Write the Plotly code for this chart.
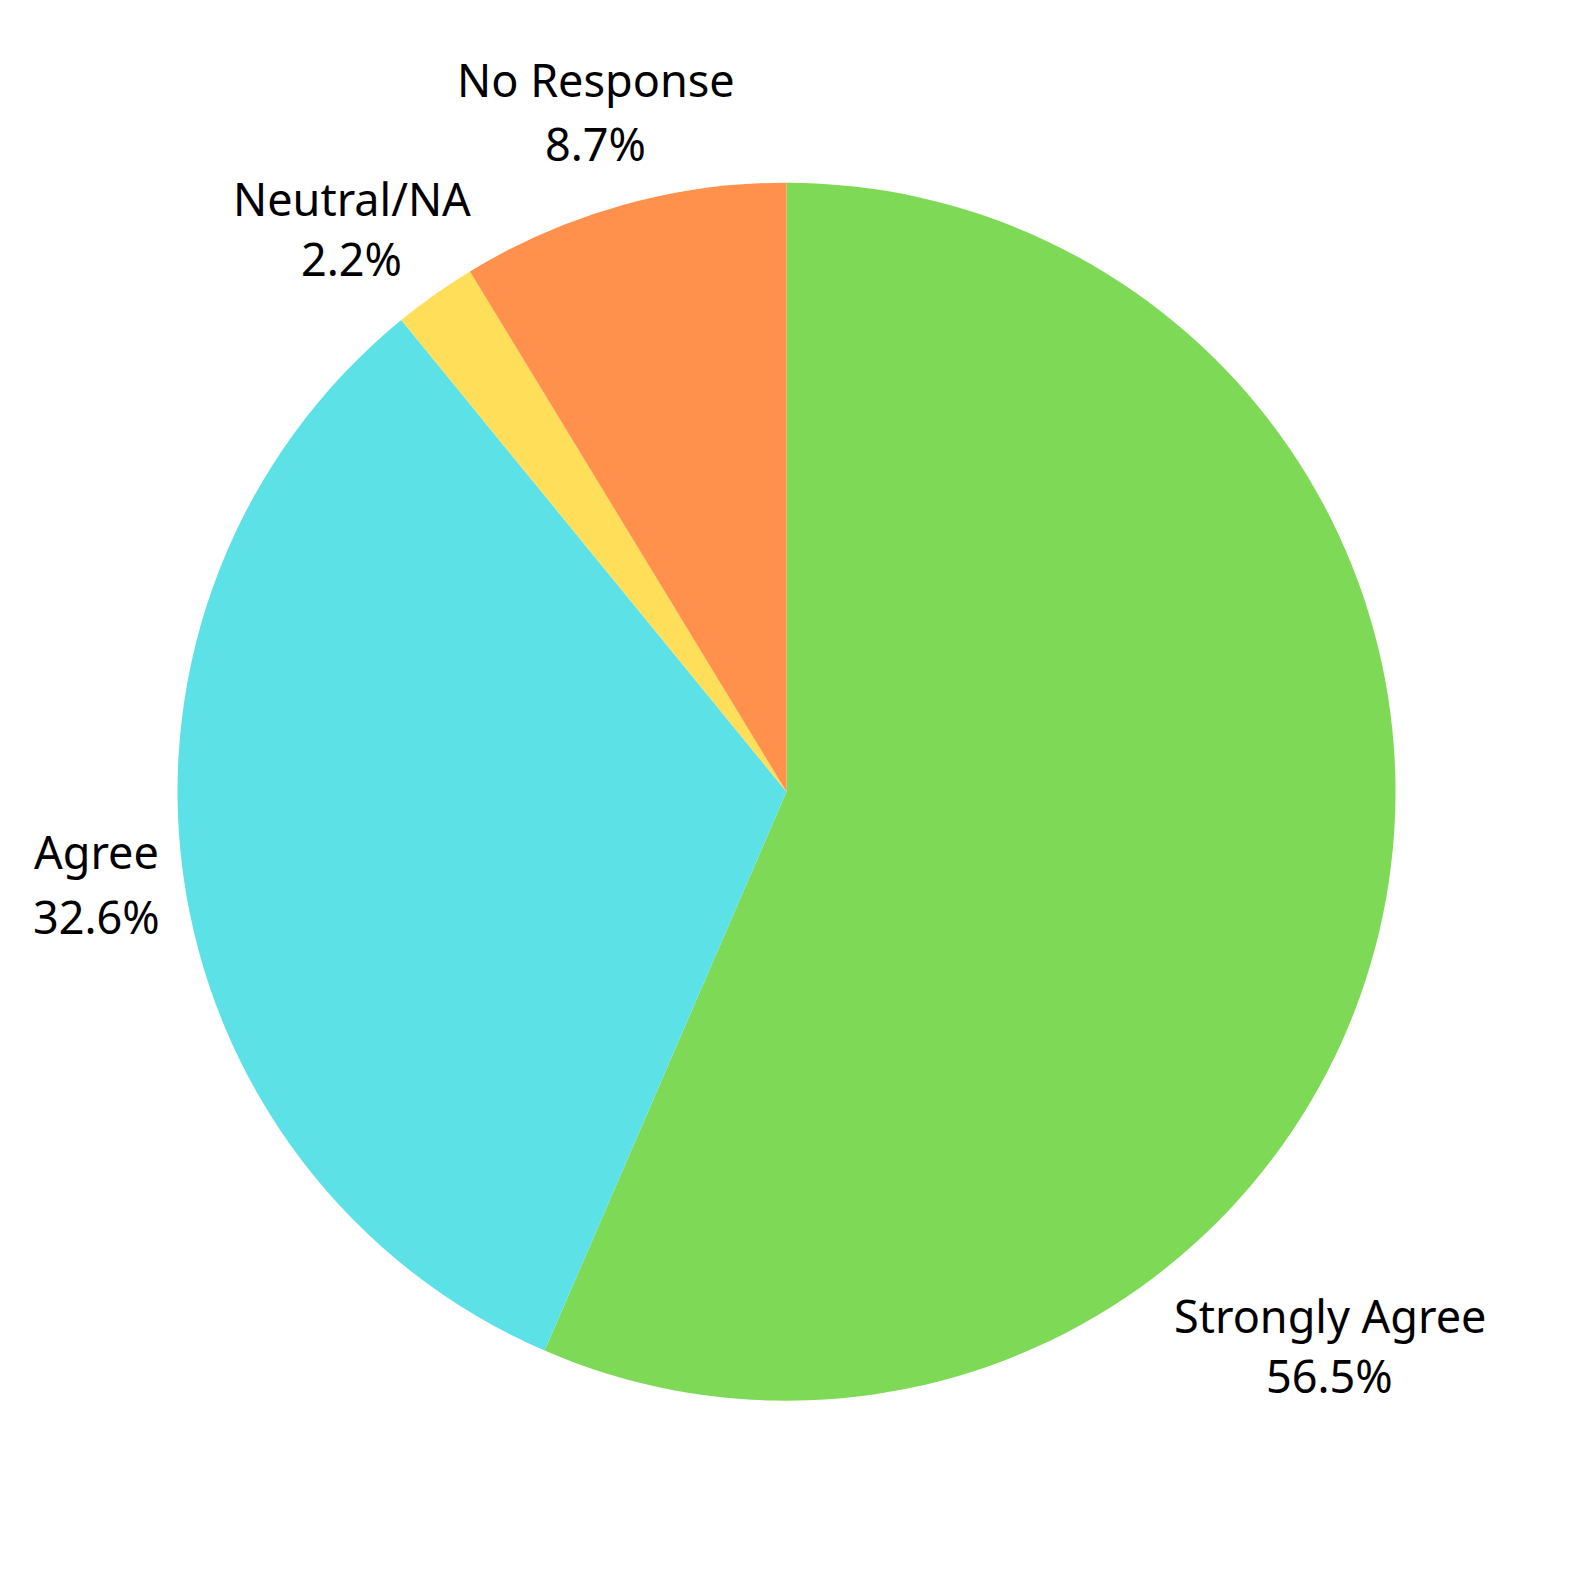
import plotly.graph_objects as go

labels = ["Strongly Agree", "Agree", "Neutral/NA", "No Response"]
values = [56.5, 32.6, 2.2, 8.7]
colors = ["#7ED957", "#5CE1E6", "#FFDE59", "#FF914D"]

W = H = 1580
OFF = 8  # page body margin of the browser

# pie box in picture pixels (left, right, top, bottom)
box = (177.5, 1395.5, 182.7, 1400.7)

fig = go.Figure(go.Pie(
    labels=labels,
    values=values,
    marker=dict(colors=colors, line=dict(width=0)),
    sort=False,
    direction="clockwise",
    rotation=0,
    textinfo="none",
    showlegend=False,
    hoverinfo="skip",
    domain=dict(
        x=[(box[0] - OFF) / W, (box[1] - OFF) / W],
        y=[1 - (box[3] - OFF) / H, 1 - (box[2] - OFF) / H],
    ),
))

# label placement in picture pixels: centre x, cap-centre y of name line, of percent line
label_pos = [(1329.5, 1317.5, 1377.5), (96.5, 854, 919), (351.5, 201, 261), (595.5, 81, 145)]
total = sum(values)
font = dict(family="Noto Sans", size=45, color="#000000")
for lab, val, (px, y1, y2) in zip(labels, values, label_pos):
    for txt, py in ((lab, y1), (f"{val / total * 100:.1f}%", y2)):
        fig.add_annotation(
            x=(px - OFF) / W, y=1 - (py - OFF - 2) / H, xref="paper", yref="paper",
            text=txt, showarrow=False, xanchor="center", yanchor="middle",
            font=font,
        )

fig.update_layout(
    width=W, height=H,
    margin=dict(l=0, r=0, t=0, b=0),
    paper_bgcolor="white",
    plot_bgcolor="white",
)

fig.write_html("out.html")
